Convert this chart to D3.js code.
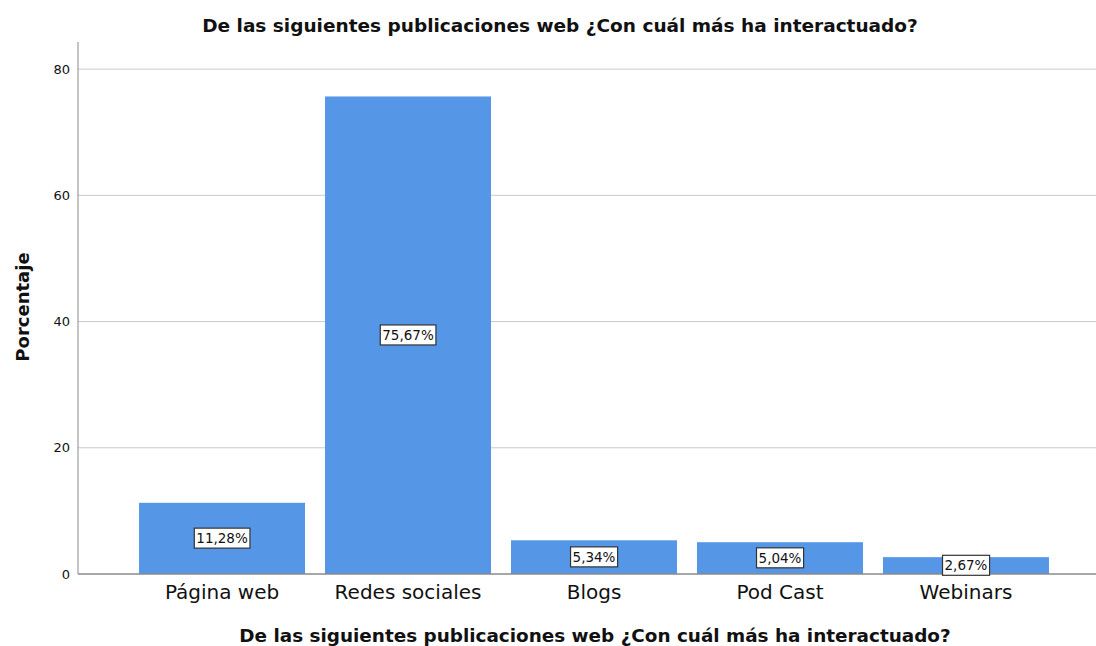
<!DOCTYPE html>
<html>
<head>
<meta charset="utf-8">
<script src="https://cdn.jsdelivr.net/npm/d3@7"></script>
<style>
  body { margin: 0; background: #fff; }
  text { font-family: "DejaVu Sans", sans-serif; fill: #111; }
</style>
</head>
<body>
<div id="chart"></div>
<script>
/* DATA */
const categories = ["Página web", "Redes sociales", "Blogs", "Pod Cast", "Webinars"];
const values = [11.28, 75.67, 5.34, 5.04, 2.67];
const yTicks = [0, 20, 40, 60, 80];
const chartTitle = "De las siguientes publicaciones web ¿Con cuál más ha interactuado?";
const yTitle = "Porcentaje";

const width = 1096, height = 646;

const svg = d3.select("#chart").append("svg")
  .attr("width", width)
  .attr("height", height);

// scales
const xScale = d3.scaleBand()
  .domain(categories)
  .range([129, 1059])
  .paddingInner(0.1075)
  .paddingOuter(0.054);

const yScale = d3.scaleLinear()
  .domain([0, 84.3])
  .range([574, 42]);

// gridlines
svg.append("g")
  .selectAll("line")
  .data(yTicks.filter(d => d > 0))
  .join("line")
  .attr("x1", 78)
  .attr("x2", width)
  .attr("y1", d => yScale(d))
  .attr("y2", d => yScale(d))
  .attr("stroke", "#c9c9c9")
  .attr("stroke-width", 1);

// bars
svg.append("g")
  .selectAll("rect")
  .data(values)
  .join("rect")
  .attr("x", (d, i) => xScale(categories[i]))
  .attr("y", d => yScale(d))
  .attr("width", xScale.bandwidth())
  .attr("height", d => yScale(0) - yScale(d))
  .attr("fill", "#5596e6");

// y axis
const yAxis = d3.axisLeft(yScale).tickValues(yTicks).tickSize(0).tickPadding(8);
const yAxisGroup = svg.append("g")
  .attr("transform", "translate(78,0)")
  .call(yAxis);
yAxisGroup.select(".domain").attr("stroke", "#8a8a8a").attr("d", "M0,42V574");
yAxisGroup.selectAll(".tick text")
  .style("font-size", "13px")
  .style("font-family", "'DejaVu Sans', sans-serif")
  .attr("fill", "#222");

// x axis
const xAxis = d3.axisBottom(xScale).tickSize(0).tickPadding(11);
const xAxisGroup = svg.append("g")
  .attr("transform", "translate(0,574)")
  .call(xAxis);
xAxisGroup.select(".domain").attr("stroke", "#8a8a8a").attr("stroke-width", 1.5)
  .attr("d", "M78,0H" + width);
xAxisGroup.selectAll(".tick text")
  .style("font-size", "20px")
  .style("font-family", "'DejaVu Sans', sans-serif")
  .attr("fill", "#111");

// value labels
const labels = svg.append("g")
  .selectAll("g")
  .data(values)
  .join("g")
  .attr("transform", (d, i) => `translate(${xScale(categories[i]) + xScale.bandwidth() / 2},${(yScale(d) + yScale(0)) / 2})`);

labels.append("text")
  .attr("text-anchor", "middle")
  .attr("dy", "0.35em")
  .style("font-size", "13.5px")
  .text(d => d.toFixed(2).replace(".", ",") + "%")
  .each(function () {
    const bb = this.getBBox();
    d3.select(this.parentNode).insert("rect", "text")
      .attr("x", bb.x - 2)
      .attr("y", bb.y - 2)
      .attr("width", bb.width + 4)
      .attr("height", bb.height + 4)
      .attr("fill", "#fff")
      .attr("stroke", "#333")
      .attr("stroke-width", 1.2);
  });

// titles
svg.append("text")
  .attr("x", 560)
  .attr("y", 32)
  .attr("text-anchor", "middle")
  .style("font-size", "18.5px")
  .style("font-weight", "bold")
  .text(chartTitle);

svg.append("text")
  .attr("x", 595)
  .attr("y", 642)
  .attr("text-anchor", "middle")
  .style("font-size", "18.4px")
  .style("font-weight", "bold")
  .text(chartTitle);

svg.append("text")
  .attr("transform", "translate(29,307) rotate(-90)")
  .attr("text-anchor", "middle")
  .style("font-size", "18px")
  .style("font-weight", "bold")
  .text(yTitle);
</script>
</body>
</html>
